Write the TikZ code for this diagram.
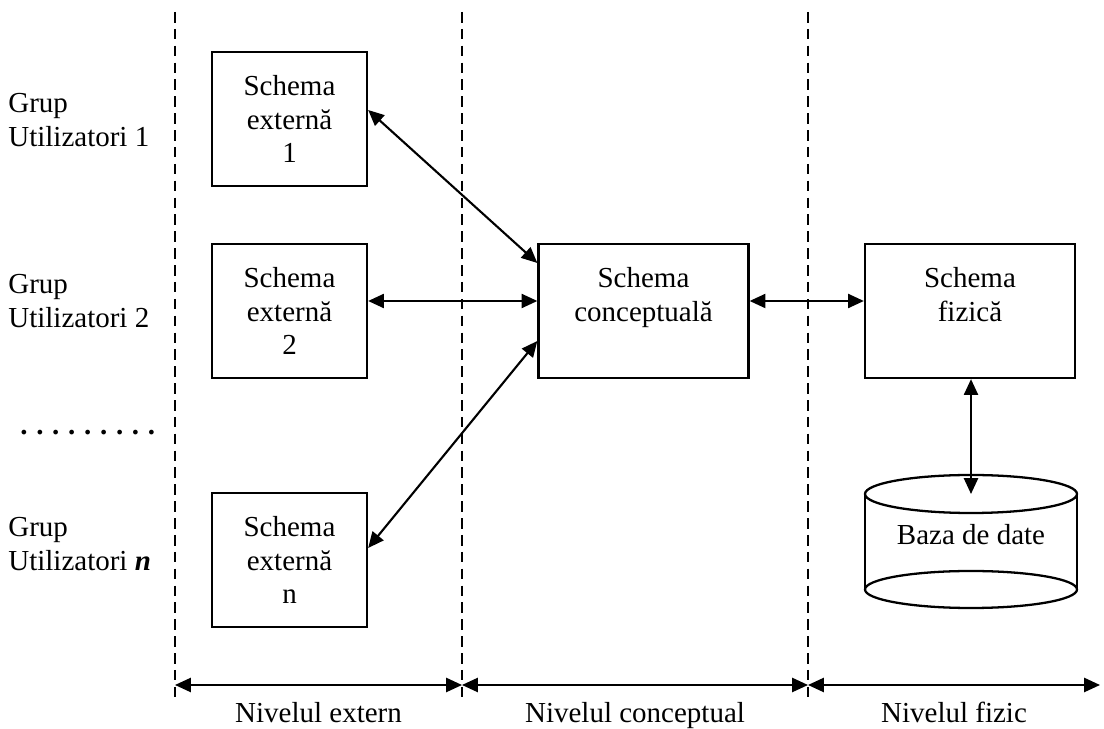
\documentclass[tikz,border=0pt]{standalone}
\usepackage{fontspec}
\setmainfont{Liberation Serif}
\usetikzlibrary{arrows.meta,positioning,calc}

\begin{document}
\begin{tikzpicture}[
  font=\fontsize{16.5}{19.3}\selectfont,
  schemabox/.style={draw, line width=1.3pt, minimum width=3.1cm, minimum height=2.68cm, align=center, inner sep=0pt},
  widebox/.style={schemabox, minimum width=4.2cm},
  link/.style={{Triangle[length=9pt,width=8pt]}-{Triangle[length=9pt,width=8pt]}, line width=1.2pt},
  levelsep/.style={dash pattern=on 6pt off 3.6pt, line width=1.2pt},
  grouplabel/.style={anchor=west, align=left, inner sep=0pt},
  levellabel/.style={anchor=base, inner sep=0pt}
]
  \useasboundingbox (0,0) rectangle (22.08,14.58);
  % dashed borders between the levels
  \foreach \x/\n in {3.50/a, 9.24/b, 16.16/c} {
    \coordinate (top\n) at (\x,14.34);
    \coordinate (bot\n) at (\x,0.52);
    \draw[levelsep] (top\n) -- (bot\n);
  }
  % user groups
  \node[grouplabel] (g1) at (0.16,12.18) {Grup\\Utilizatori 1};
  \node[grouplabel] (g2) at (0.16,8.55) {Grup\\Utilizatori 2};
  \node[grouplabel] (dots) at (0.40,5.92) {\textbf{.\hspace{0.3em}.\hspace{0.3em}.\hspace{0.3em}.\hspace{0.3em}.\hspace{0.3em}.\hspace{0.3em}.\hspace{0.3em}.\hspace{0.3em}.}};
  \node[grouplabel] (gn) at (0.16,3.70) {Grup\\Utilizatori \textbf{\textit{n}}};
  % schemas
  \node[schemabox] (se1) at (5.79,12.20) {Schema\\externă\\1};
  \node[schemabox] (se2) at (5.79,8.36) {Schema\\externă\\2};
  \node[schemabox] (sen) at (5.79,3.38) {Schema\\externă\\n};
  \node[widebox] (sc) at (12.87,8.36) {Schema\\conceptuală\\\phantom{1}};
  \node[widebox] (sf) at (19.40,8.36) {Schema\\fizică\\\phantom{1}};
  % database cylinder
  \coordinate (cyltop) at (19.42,4.70);
  \coordinate (cylbot) at (19.42,2.79);
  \draw[line width=1.3pt] (cyltop) ellipse (2.12 and 0.38);
  \draw[line width=1.3pt] (cylbot) ellipse (2.12 and 0.37);
  \draw[line width=1.3pt] ($(cyltop)+(-2.12,0)$) -- ($(cylbot)+(-2.12,0)$);
  \draw[line width=1.3pt] ($(cyltop)+(2.12,0)$) -- ($(cylbot)+(2.12,0)$);
  \node (db) at (19.42,3.88) {Baza de date};
  % mappings
  \draw[link] ($(se1.east)+(0,0.18)$) -- ($(sc.west)+(0,0.96)$);
  \draw[link] ($(se2.east)+(0,0.20)$) -- ($(sc.west)+(0,0.20)$);
  \draw[link] ($(sen.east)+(0,0.24)$) -- ($(sc.west)+(0,-0.60)$);
  \draw[link] ($(sc.east)+(0,0.20)$) -- ($(sf.west)+(0,0.20)$);
  \draw[link] (sf.south -| cyltop) -- (cyltop);
  % level extents
  \coordinate (la) at (3.50,0.88);
  \coordinate (lb) at (9.24,0.88);
  \coordinate (lc) at (16.16,0.88);
  \coordinate (ld) at (22.00,0.88);
  \draw[link] (la) -- (lb);
  \draw[link] (lb) -- (lc);
  \draw[link] (lc) -- (ld);
  \node[levellabel] (n1) at ($(la)!0.5!(lb)+(0,-0.76)$) {Nivelul extern};
  \node[levellabel] (n2) at ($(lb)!0.5!(lc)+(0,-0.76)$) {Nivelul conceptual};
  \node[levellabel] (n3) at ($(lc)!0.5!(ld)+(0,-0.76)$) {Nivelul fizic};
\end{tikzpicture}
\end{document}
